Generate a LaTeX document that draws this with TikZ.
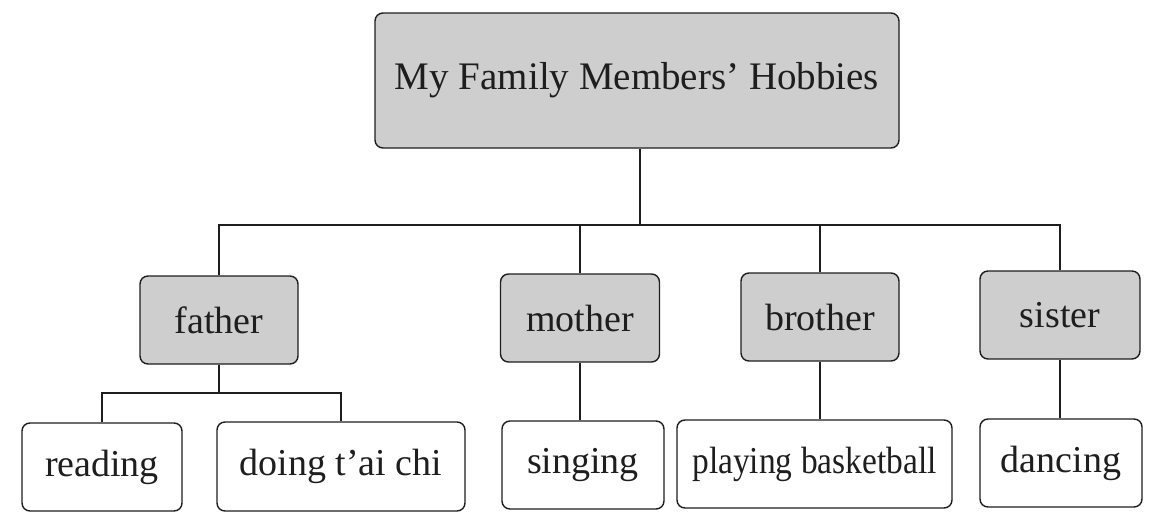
\documentclass[tikz,border=0pt]{standalone}
\usepackage{fontspec}
\setmainfont{Liberation Serif}
\definecolor{boxgray}{RGB}{206,206,206}
\definecolor{inkc}{RGB}{30,30,30}
\begin{document}
\begin{tikzpicture}[x=1pt,y=-1pt,
  base/.style={draw=inkc,line width=1.4pt,rounded corners=8pt,inner sep=0pt,
    text=inkc,font=\fontsize{38}{40}\selectfont},
  graybox/.style={base,fill=boxgray},
  whitebox/.style={base,fill=white},
  link/.style={draw=inkc,line width=1.2pt}]
\useasboundingbox (0,0) rectangle (1163,517);
\node[graybox,minimum width=524pt,minimum height=135pt,font=\fontsize{39}{41}\selectfont] (top) at (637,80.5) {My Family Members’ Hobbies};
\node[graybox,minimum width=158pt,minimum height=88pt] (father) at (219,320) {father};
\node[graybox,minimum width=159pt,minimum height=88pt] (mother) at (580,318) {mother};
\node[graybox,minimum width=158pt,minimum height=88pt] (brother) at (820,317) {brother};
\node[graybox,minimum width=160pt,minimum height=88pt] (sister) at (1060,315) {sister};
\node[whitebox,minimum width=160pt,minimum height=88pt] (reading) at (102,467) {reading};
\node[whitebox,minimum width=248pt,minimum height=89pt] (taichi) at (341,466.5) {doing t’ai chi};
\node[whitebox,minimum width=162pt,minimum height=88pt] (singing) at (583,465) {singing};
\node[whitebox,minimum width=275pt,minimum height=88pt] (basket) at (814.5,464) {\scalebox{0.88}[1]{playing basketball}};
\node[whitebox,minimum width=162pt,minimum height=88pt] (dancing) at (1061,463) {dancing};
\coordinate (hub) at (640,225);
\coordinate (fhub) at (219,393);
\draw[link] (top.south -| hub) -- (hub);
\draw[link] (father.north) -- (father.north |- hub) -- (sister.north |- hub) -- (sister.north);
\draw[link] (mother.north) -- (mother.north |- hub);
\draw[link] (brother.north) -- (brother.north |- hub);
\draw[link] (father.south) -- (fhub);
\draw[link] (reading.north) -- (reading.north |- fhub) -- (taichi.north |- fhub) -- (taichi.north);
\draw[link] (mother.south) -- (mother.south |- singing.north);
\draw[link] (brother.south) -- (brother.south |- basket.north);
\draw[link] (sister.south) -- (sister.south |- dancing.north);
\end{tikzpicture}
\end{document}
